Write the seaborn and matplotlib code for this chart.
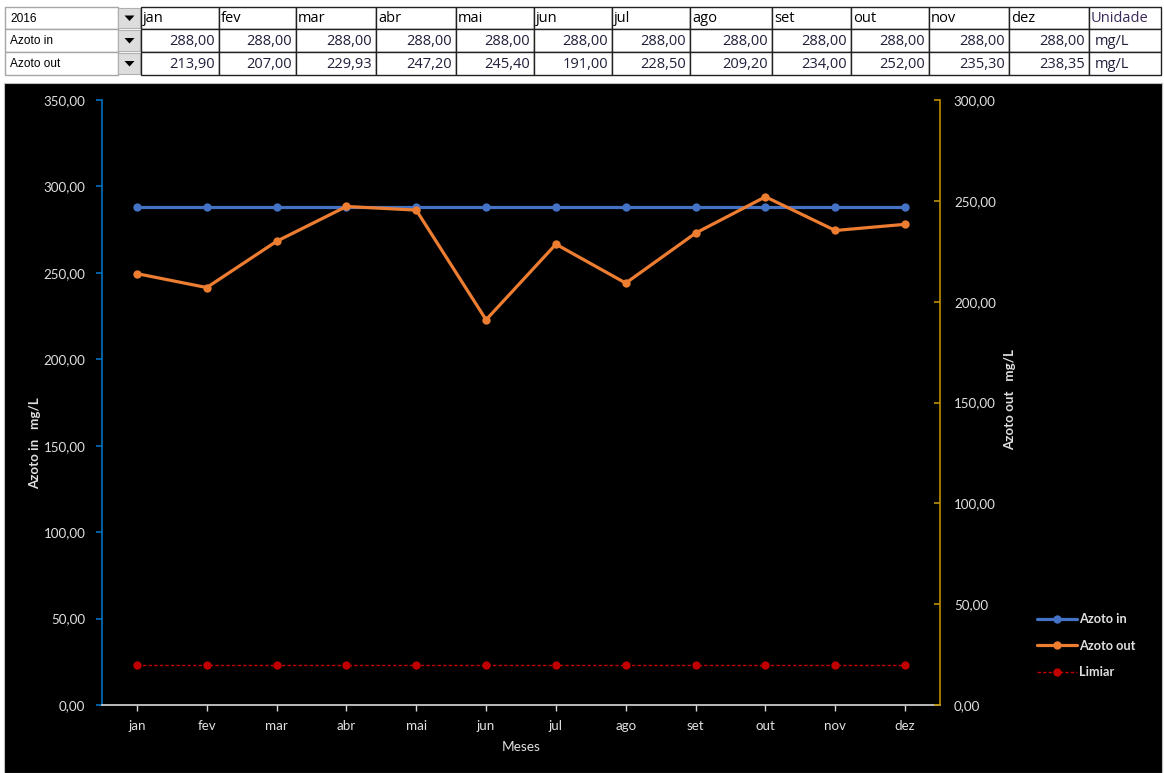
import numpy as np
import pandas as pd
import matplotlib
matplotlib.use("Agg")
import matplotlib.pyplot as plt
from matplotlib.patches import Rectangle, Polygon
from matplotlib.lines import Line2D
from matplotlib.ticker import FuncFormatter
import seaborn as sns

# ---- data -------------------------------------------------------------
year_label = "2016"
months = ["jan", "fev", "mar", "abr", "mai", "jun",
          "jul", "ago", "set", "out", "nov", "dez"]
azoto_in = [288.00, 288.00, 288.00, 288.00, 288.00, 288.00,
            288.00, 288.00, 288.00, 288.00, 288.00, 288.00]
azoto_out = [213.90, 207.00, 229.93, 247.20, 245.40, 191.00,
             228.50, 209.20, 234.00, 252.00, 235.30, 238.35]
limiar = [20.0] * 12
unit = "mg/L"

series_names = ["Azoto in", "Azoto out", "Limiar"]
left_ticks = [0, 50, 100, 150, 200, 250, 300, 350]
right_ticks = [0, 50, 100, 150, 200, 250, 300]

df = pd.DataFrame({"mes": months, "Azoto in": azoto_in,
                   "Azoto out": azoto_out, "Limiar": limiar})

# ---- style ------------------------------------------------------------
sns.set_theme(style="white")
plt.rcParams["font.family"] = ["Lato", "DejaVu Sans"]

C_IN = "#4472C4"
C_OUT = "#ED7D31"
C_LIM = "#C00000"
C_TXT = "#E0E0E0"

W, H = 1164, 773
fig = plt.figure(figsize=(W / 100, H / 100), dpi=100)
fig.patch.set_facecolor("white")


def fx(px):
    return px / W


def fy(py):
    return 1 - py / H


# black chart panel (behind everything)
fig.patches.append(Rectangle((fx(4), fy(773)), fx(1162) - fx(4), fy(83) - fy(773),
                             transform=fig.transFigure, facecolor="black",
                             edgecolor="#BFBFBF", lw=0.8, zorder=-5))

# ---- main chart -------------------------------------------------------
ax = fig.add_axes([fx(102), fy(705), fx(940) - fx(102), fy(100) - fy(705)])
ax.set_facecolor("black")
ax2 = ax.twinx()
ax2.patch.set_visible(False)

sns.lineplot(data=df, x="mes", y="Azoto in", ax=ax, color=C_IN, lw=2.3,
             marker="o", markersize=6, markeredgewidth=0, sort=False,
             label=series_names[0], legend=False)
sns.lineplot(data=df, x="mes", y="Azoto out", ax=ax2, color=C_OUT, lw=2.3,
             marker="o", markersize=6, markeredgewidth=0, sort=False,
             label=series_names[1], legend=False)
sns.lineplot(data=df, x="mes", y="Limiar", ax=ax2, color=C_LIM, lw=1.0,
             linestyle=(0, (2.5, 1.5)), marker="o", markersize=6,
             markeredgewidth=0, sort=False, label=series_names[2], legend=False)

ax.set_xlim(-0.5, len(months) - 0.5)
ax.set_ylim(0, 350)
ax2.set_ylim(0, 300)
ax.set_yticks(left_ticks)
ax2.set_yticks(right_ticks)

fmt = FuncFormatter(lambda v, p: f"{v:.2f}".replace(".", ","))
ax.yaxis.set_major_formatter(fmt)
ax2.yaxis.set_major_formatter(fmt)

for a in (ax, ax2):
    a.grid(False)
    a.set_xlabel("")
    a.set_ylabel("")
    for s in a.spines.values():
        s.set_visible(False)

ax.spines["left"].set_visible(True)
ax.spines["left"].set_color("#0070C0")
ax.spines["left"].set_linewidth(1.2)
ax.spines["bottom"].set_visible(True)
ax.spines["bottom"].set_color("#D9D9D9")
ax.spines["bottom"].set_linewidth(1.2)
ax2.spines["right"].set_visible(True)
ax2.spines["right"].set_color("#BF9000")
ax2.spines["right"].set_linewidth(1.2)

TICK_FS = 9.6
ax.tick_params(axis="y", colors="#0070C0", labelcolor=C_TXT, labelsize=TICK_FS,
               direction="out", length=4, width=1.2, left=True, pad=8)
ax.tick_params(axis="x", colors="#D9D9D9", labelcolor=C_TXT, labelsize=TICK_FS,
               direction="out", length=4, width=1.0, bottom=True, pad=7)
ax2.tick_params(axis="y", colors="#BF9000", labelcolor=C_TXT, labelsize=TICK_FS,
                direction="in", length=4, width=1.2, right=True, pad=10)

fig.text(fx(521), fy(747), "Meses", color=C_TXT, fontsize=9.8,
         ha="center", va="center")
fig.text(fx(35), fy(443), "Azoto in   mg/L", color=C_TXT, fontsize=9.6,
         ha="center", va="center", rotation=90, fontweight="bold")
fig.text(fx(1010), fy(400), "Azoto out   mg/L", color=C_TXT, fontsize=9.6,
         ha="center", va="center", rotation=90, fontweight="bold")

handles = [
    Line2D([], [], color=C_IN, lw=2.3, marker="o", markersize=6, markeredgewidth=0),
    Line2D([], [], color=C_OUT, lw=2.3, marker="o", markersize=6, markeredgewidth=0),
    Line2D([], [], color=C_LIM, lw=1.0, linestyle=(0, (2.5, 1.5)), marker="o",
           markersize=6, markeredgewidth=0),
]
leg = fig.legend(handles, series_names, loc="upper left",
                 bbox_to_anchor=(fx(1032), fy(608)), frameon=False,
                 fontsize=9.2, handlelength=3.1, handletextpad=0.15,
                 labelspacing=1.15, borderaxespad=0)
for t in leg.get_texts():
    t.set_color(C_TXT)
    t.set_fontweight("bold")

# ---- selector table above the chart -----------------------------------
tab = fig.add_axes([0, 0, 1, 1], facecolor="none")
tab.set_xlim(0, W)
tab.set_ylim(H, 0)
tab.axis("off")

col_edges = [5, 118, 141, 219, 296, 376, 456, 534, 612, 690, 772, 851,
             929, 1009, 1089, 1161]
row_edges = [7, 29, 52, 75]
row_titles = [year_label, series_names[0], series_names[1]]
row_values = [None, azoto_in, azoto_out]

for r in range(3):
    y0, y1 = row_edges[r], row_edges[r + 1]
    ym = (y0 + y1) / 2
    # label cell
    tab.add_patch(Rectangle((col_edges[0], y0), col_edges[1] - col_edges[0], y1 - y0,
                            facecolor="white", edgecolor="#A6A6A6", lw=1.0))
    tab.text(col_edges[0] + 5, ym + 0.5, row_titles[r], fontsize=8.6, color="black",
             ha="left", va="center", family=["Liberation Sans", "DejaVu Sans"])
    # dropdown button
    tab.add_patch(Rectangle((col_edges[1], y0 + 1), col_edges[2] - col_edges[1] - 1,
                            y1 - y0 - 2, facecolor="#DDDDDD", edgecolor="#B0B0B0",
                            lw=0.8))
    cx = (col_edges[1] + col_edges[2]) / 2
    tab.add_patch(Polygon([[cx - 5, ym - 2.5], [cx + 5, ym - 2.5], [cx, ym + 3]],
                          closed=True, facecolor="black", edgecolor="none"))
    # month / value cells
    for c in range(13):
        x0, x1 = col_edges[c + 2], col_edges[c + 3]
        tab.add_patch(Rectangle((x0, y0), x1 - x0, y1 - y0, facecolor="white",
                                edgecolor="#222222", lw=1.0))
        if r == 0:
            txt = months[c] if c < 12 else "Unidade"
            col = "black" if c < 12 else "#3C2A5A"
            tab.text(x0 + 2, ym + 1, txt, fontsize=10.5, color=col,
                     ha="left", va="center", family=["Open Sans", "DejaVu Sans"])
        elif c < 12:
            txt = f"{row_values[r][c]:.2f}".replace(".", ",")
            tab.text(x1 - 4, ym + 1, txt, fontsize=10.5, color="#1F1F3A",
                     ha="right", va="center", family=["Open Sans", "DejaVu Sans"])
        else:
            tab.text(x0 + 6, ym + 1, unit, fontsize=10.5, color="#1F1F3A",
                     ha="left", va="center", family=["Open Sans", "DejaVu Sans"])

fig.savefig("out.png", dpi=100, facecolor=fig.get_facecolor())
